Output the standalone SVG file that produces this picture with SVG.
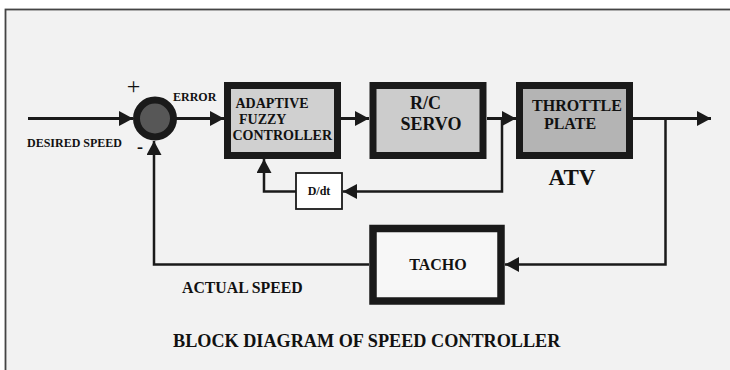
<svg xmlns="http://www.w3.org/2000/svg" width="730" height="370" viewBox="0 0 730 370">
<style>
text{font-family:"Liberation Serif","Times New Roman",serif;font-weight:bold;fill:#111}
.blk{stroke:#1a1a1a;stroke-width:7}
.ln{fill:none;stroke:#1a1a1a;stroke-width:3;stroke-linejoin:miter}
.fb{fill:none;stroke:#1a1a1a;stroke-width:2.5}
</style>
<defs>
<marker id="ah" viewBox="0 0 14 15" refX="14" refY="7.5" markerWidth="14" markerHeight="15" markerUnits="userSpaceOnUse" orient="auto">
<path d="M0,0 L14,7.5 L0,15 z" fill="#1a1a1a"/>
</marker>
</defs>
<rect x="0" y="0" width="730" height="370" fill="#ffffff"/>
<rect x="5.5" y="9.5" width="740" height="380" fill="#f2f2f2" stroke="#444" stroke-width="1.8"/>

<g id="connectors">
<line class="ln" x1="28" y1="118.5" x2="133" y2="118.5" marker-end="url(#ah)"/>
<line class="ln" x1="176" y1="118.5" x2="224" y2="118.5" marker-end="url(#ah)"/>
<line class="ln" x1="341" y1="118.5" x2="369" y2="118.5" marker-end="url(#ah)"/>
<line class="ln" x1="487" y1="118.5" x2="516" y2="118.5" marker-end="url(#ah)"/>
<line class="ln" x1="633" y1="118.5" x2="711" y2="118.5" marker-end="url(#ah)"/>
<polyline class="fb" points="502,118.5 502,191.5 343,191.5" marker-end="url(#ah)"/>
<polyline class="fb" points="296,191.5 264,191.5 264,159" marker-end="url(#ah)"/>
<polyline class="fb" points="665.5,118.5 665.5,264.5 505,264.5" marker-end="url(#ah)"/>
<polyline class="fb" points="369,264.5 154,264.5 154,141" marker-end="url(#ah)"/>
</g>

<g id="sum">
<circle cx="155" cy="118.5" r="18.5" fill="#575757" stroke="#1a1a1a" stroke-width="7"/>
<text x="133.5" y="94" text-anchor="middle" style="font-weight:normal;font-size:24px">+</text>
<text x="140" y="153" text-anchor="middle" style="font-size:18px">-</text>
</g>

<g id="labels">
<text x="173" y="100.5" style="font-size:12px">ERROR</text>
<text x="27" y="146.5" style="font-size:12px">DESIRED SPEED</text>
<text x="182" y="292.5" style="font-size:15.8px">ACTUAL SPEED</text>
<text x="173" y="346.5" style="font-size:18.2px">BLOCK DIAGRAM OF SPEED CONTROLLER</text>
</g>

<g id="adaptive">
<rect class="blk" x="227.5" y="85.5" width="110" height="70" fill="#d0d0d0"/>
<text x="235.5" y="107.5" style="font-size:14px">ADAPTIVE</text>
<text x="239" y="123.5" style="font-size:14px">FUZZY</text>
<text x="232.5" y="139.5" style="font-size:14px">CONTROLLER</text>
</g>

<g id="servo">
<rect class="blk" x="373" y="85.5" width="110" height="70" fill="#cccccc"/>
<text x="425.5" y="109" text-anchor="middle" style="font-size:18px">R/C</text>
<text x="431" y="130" text-anchor="middle" style="font-size:18px">SERVO</text>
</g>

<g id="throttle">
<rect class="blk" x="519.5" y="85.5" width="110" height="70" fill="#b4b4b4"/>
<text x="577" y="110.5" text-anchor="middle" style="font-size:16px">THROTTLE</text>
<text x="570" y="128.5" text-anchor="middle" style="font-size:16px">PLATE</text>
<text x="572" y="185" text-anchor="middle" style="font-size:23px">ATV</text>
</g>

<g id="ddt">
<rect x="296" y="173" width="46" height="36" fill="#ffffff" stroke="#1a1a1a" stroke-width="1.8"/>
<text x="319" y="195" text-anchor="middle" style="font-size:12px">D/dt</text>
</g>

<g id="tacho">
<rect x="373" y="228.5" width="128" height="72.5" fill="#f7f7f7" stroke="#1a1a1a" stroke-width="7.5"/>
<text x="438" y="270" text-anchor="middle" style="font-size:16px">TACHO</text>
</g>
</svg>
